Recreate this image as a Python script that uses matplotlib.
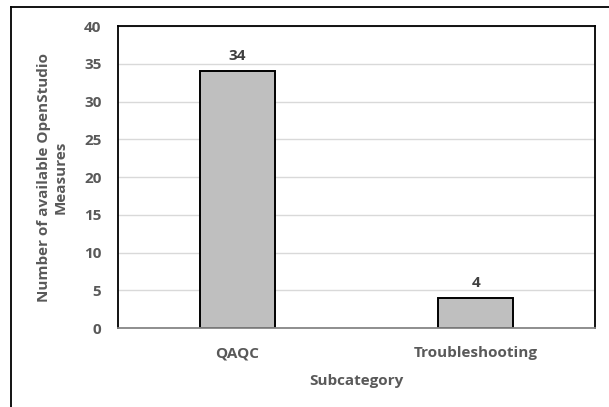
import numpy as np
import matplotlib.pyplot as plt
from matplotlib.lines import Line2D

categorias = ["QAQC", "Troubleshooting"]
medidas = [34, 4]

plt.rcParams['font.family'] = ['Open Sans', 'DejaVu Sans']
gris_texto = "#595959"
tam = 11

fig = plt.figure(figsize=(6.09, 4.07), dpi=100)
ax = fig.add_axes([0.1938, 0.194, 0.7832, 0.742])

x = np.arange(len(categorias))
barras = ax.bar(x, medidas, width=0.315, color="#bfbfbf", edgecolor="black", linewidth=1.4, zorder=3)

for b, v in zip(barras, medidas):
    ax.text(b.get_x() + b.get_width() / 2, v + 1.1, str(v), ha="center", va="bottom",
            fontsize=tam, fontweight="bold", color="#404040")

ax.set_xlim(-0.5, 1.5)
ax.set_ylim(0, 40)
ax.set_yticks(range(0, 41, 5))
ax.set_xticks(x)
ax.set_xticklabels(categorias)
ax.tick_params(axis="both", length=0, labelsize=tam, labelcolor=gris_texto)
ax.tick_params(axis="y", pad=12)
ax.tick_params(axis="x", pad=13)
for lab in ax.get_xticklabels() + ax.get_yticklabels():
    lab.set_fontweight("bold")

ax.grid(axis="y", color="#d9d9d9", linewidth=1, zorder=0)
ax.set_axisbelow(True)

for lado in ["left", "top", "right"]:
    ax.spines[lado].set_color("black")
    ax.spines[lado].set_linewidth(1.3)
ax.spines["bottom"].set_color("#868686")
ax.spines["bottom"].set_linewidth(1.3)
ax.spines["bottom"].set_zorder(4)

ax.set_xlabel("Subcategory", fontsize=tam, fontweight="bold", color=gris_texto, labelpad=10)
ax.set_ylabel("Number of available OpenStudio\nMeasures", fontsize=tam, fontweight="bold",
              color=gris_texto, labelpad=12, linespacing=1.25)

# marco exterior (solo izquierda y arriba visibles)
fig.add_artist(Line2D([11 / 609, 11 / 609], [0, 1 - 7 / 407], transform=fig.transFigure,
                      color="black", linewidth=1.3))
fig.add_artist(Line2D([11 / 609, 1], [1 - 7 / 407, 1 - 7 / 407], transform=fig.transFigure,
                      color="black", linewidth=1.3))

fig.savefig("out.png", dpi=100)
